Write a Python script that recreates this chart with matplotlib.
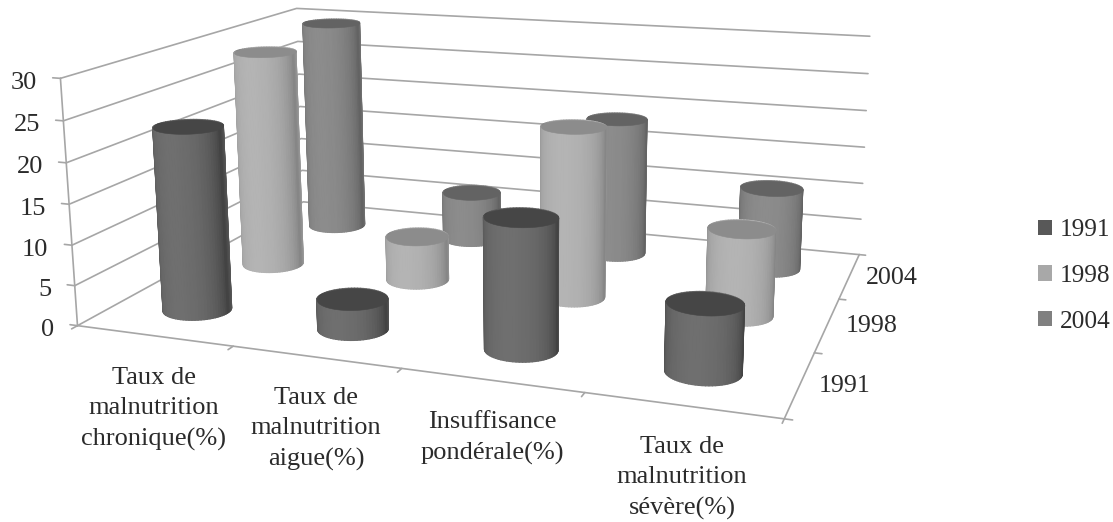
import numpy as np
import matplotlib
matplotlib.use("Agg")
import matplotlib.pyplot as plt
from matplotlib.patches import Patch
from mpl_toolkits.mplot3d.art3d import Poly3DCollection

W, H = 1113, 522
plt.rcParams['font.family'] = ['Liberation Serif', 'DejaVu Serif']

categories = ["Taux de\nmalnutrition\nchronique(%)", "Taux de\nmalnutrition\naigue(%)",
              "Insuffisance\npondérale(%)", "Taux de\nmalnutrition\nsévère(%)"]
years = ["1991", "1998", "2004"]
values_1991 = [23.0, 3.7, 15.6, 7.9]
values_1998 = [28.8, 5.8, 21.8, 10.8]
values_2004 = [29.7, 6.7, 18.7, 10.9]
series_values = [values_1991, values_1998, values_2004]
z_ticks = [0, 5, 10, 15, 20, 25, 30]

# style per series: side centre, side edge, top, radius
side_centre = ['#6f6f6f', '#b4b4b4', '#8c8c8c']
side_edge = ['#3e3e3e', '#808080', '#5e5e5e']
top_col = ['#464646', '#8c8c8c', '#636363']
legend_col = ['#585858', '#a8a8a8', '#808080']
radius_x = [0.2, 0.19, 0.19]
RY = 0.2
GRID = '#a6a6a6'

fig = plt.figure(figsize=(W / 100, H / 100), dpi=100, facecolor='white')
ax = fig.add_axes([0, 0, 1, 1], projection='3d', computed_zorder=False)
ax.apply_aspect = lambda position=None: None
ax.set_axis_off()

# camera calibrated from the chart box corners (x, y, z) -> image pixel
world = np.array([(0, 0, 0), (0, 0, 30), (0, 3, 0), (0, 3, 30),
                  (4, 3, 0), (4, 3, 30), (4, 0, 0)], float)
image = np.array([(78, 325), (61, 78), (303, 203), (296, 8),
                  (860, 253), (870, 37), (783, 420)], float)
disp = np.c_[image[:, 0], H - image[:, 1]]
target = ax.transData.inverted().transform(disp)
A = []
for (X, Y, Z), (u, v) in zip(world, target):
    A.append([X, Y, Z, 1, 0, 0, 0, 0, -u * X, -u * Y, -u * Z, -u])
    A.append([0, 0, 0, 0, X, Y, Z, 1, -v * X, -v * Y, -v * Z, -v])
P = np.linalg.svd(np.array(A))[2][-1].reshape(3, 4)
if P[2, 3] < 0:
    P = -P
M = np.array([P[0], P[1], [0, 0, 0, -1.0], P[2]])
ax.get_proj = lambda: M


def to_pixel(x, y, z):
    h = P @ np.array([x, y, z, 1.0])
    d = ax.transData.transform([h[0] / h[2], h[1] / h[2]])
    return d[0], H - d[1]


def line3(xs, ys, zs, lw=1.2, c=GRID):
    ax.plot(xs, ys, zs, color=c, lw=lw, zorder=1, solid_capstyle='round')


for z in z_ticks:
    line3([0, 0, 4], [0, 3, 3], [z, z, z])
line3([0, 0], [0, 0], [0, 30])
line3([0, 4, 4], [0, 0, 3], [0, 0, 0])
for z in z_ticks:
    line3([0, -0.05], [0, 0], [z, z])
for i in range(5):
    line3([i, i], [0, -0.06], [0, 0])
for j in range(4):
    line3([4, 4.04], [j, j], [0, 0])

N = 72
th = np.linspace(0, 2 * np.pi, N + 1)
zo = 10
for j in range(2, -1, -1):
    for i in range(4):
        v = series_values[j][i]
        cx, cy = i + 0.5, j + 0.5
        X = np.vstack([cx + radius_x[j] * np.cos(th)] * 2)
        Y = np.vstack([cy + RY * np.sin(th)] * 2)
        Z = np.vstack([np.zeros(N + 1), np.full(N + 1, v)])
        mid = 0.5 * (th[:-1] + th[1:])
        t = np.abs(np.sin(mid)) ** 0.7
        c0 = np.array(matplotlib.colors.to_rgb(side_edge[j]))
        c1 = np.array(matplotlib.colors.to_rgb(side_centre[j]))
        cols = c0[None, :] + (c1 - c0)[None, :] * t[:, None]
        fc = np.c_[cols, np.ones(N)][None, :, :]
        ax.plot_surface(X, Y, Z, facecolors=fc, rstride=1, cstride=1, shade=False,
                        linewidth=0.9, antialiased=True, zorder=zo)
        top = Poly3DCollection([list(zip(X[0], Y[0], Z[1]))], facecolors=top_col[j],
                               edgecolors=top_col[j], linewidths=0.4, zorder=zo + 1)
        ax.add_collection3d(top)
        zo += 2


def put(px, py, s, size, **kw):
    fig.text(px / W, 1 - py / H, s, fontsize=size, color='#2b2b2b', **kw)


for z in z_ticks:
    px, py = to_pixel(0, 0, z)
    put(px - 23.5, py + 4.5, str(z), 19, ha='right', va='center')

label_pos = [(154, 409), (316, 429), (492, 438), (682, 478)]
for s, (px, py) in zip(categories, label_pos):
    put(px, py, s, 19, ha='center', va='center', linespacing=1.5, multialignment='center')

year_pos = [(845, 386), (872, 326), (892, 278)]
for s, (px, py) in zip(years, year_pos):
    put(px, py, s, 18.7, ha='center', va='center')

handles = [Patch(facecolor=c, edgecolor='none') for c in legend_col]
fig.legend(handles, years, loc='center left', bbox_to_anchor=(1038 / W, 1 - 276 / H), frameon=False,
           fontsize=18.2, labelspacing=0.93, handlelength=0.56, handleheight=0.56, handletextpad=0.3,
           borderpad=0, borderaxespad=0, labelcolor='#2b2b2b')

fig.savefig('out.png', dpi=100, facecolor='white')
